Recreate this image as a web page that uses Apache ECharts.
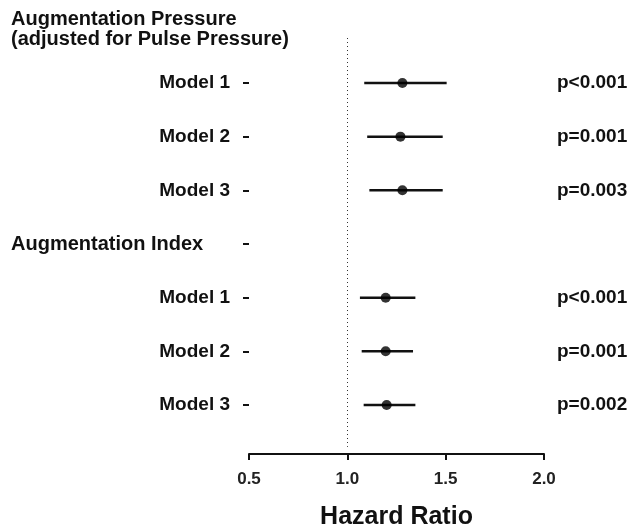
<!DOCTYPE html>
<html>
<head>
<meta charset="utf-8">
<script src="https://cdn.jsdelivr.net/npm/echarts@6/dist/echarts.min.js"></script>
<style>html,body{margin:0;padding:0;background:#fff;}#c{width:633px;height:527px;}</style>
</head>
<body>
<div id="c"></div>
<script>
// Rows (top to bottom); index 0 and 4 are group headers
const rowLabels = ['Augmentation Pressure\n(adjusted for Pulse Pressure)', 'Model 1', 'Model 2', 'Model 3', 'Augmentation Index', 'Model 1', 'Model 2', 'Model 3'];
const headerRows = [0, 4];
const hazardRatio = [null, 1.28, 1.27, 1.28, null, 1.195, 1.195, 1.20];
const ciLower = [null, 1.086, 1.101, 1.112, null, 1.064, 1.073, 1.083];
const ciUpper = [null, 1.505, 1.485, 1.485, null, 1.346, 1.334, 1.346];
const pValues = ['', 'p<0.001', 'p=0.001', 'p=0.003', '', 'p<0.001', 'p=0.001', 'p=0.002'];
const xTicks = [0.5, 1.0, 1.5, 2.0];
const refLine = 1.0;

const FONT = '"Liberation Sans", Arial, Helvetica, sans-serif';
const rowIdx = rowLabels.map((_, i) => i);
const tickRows = rowIdx.filter(i => i > 0);
const pRows = rowIdx.filter(i => pValues[i] !== '');

const pointData = [];
const ciData = [];
rowIdx.forEach(i => {
  if (hazardRatio[i] != null) {
    pointData.push([hazardRatio[i], i]);
    ciData.push([ciLower[i], ciUpper[i], i]);
  }
});

const chart = echarts.init(document.getElementById('c'), null, {renderer: 'canvas'});
const Y_MIN = -0.509, Y_MAX = 7.913;
chart.setOption({
  backgroundColor: '#ffffff',
  animation: false,
  grid: {left: 249, right: 89, top: 2, bottom: 73, containLabel: false, outerBoundsMode: 'none'},
  xAxis: {
    type: 'value',
    min: xTicks[0], max: xTicks[xTicks.length - 1], interval: 0.5,
    splitLine: {show: false},
    axisLine: {show: true, onZero: false, lineStyle: {color: '#111', width: 2}},
    axisTick: {show: true, inside: false, length: 6, lineStyle: {color: '#111', width: 2}},
    axisLabel: {show: true, margin: 17, fontFamily: FONT, fontSize: 17, fontWeight: 'bold', color: '#222',
      formatter: v => v.toFixed(1)},
    name: 'Hazard Ratio', nameLocation: 'middle', nameGap: 51,
    nameTextStyle: {fontFamily: FONT, fontSize: 25, fontWeight: 'bold', color: '#111'}
  },
  yAxis: [{
    type: 'value', inverse: true, min: Y_MIN, max: Y_MAX,
    splitLine: {show: false},
    axisLine: {show: false, onZero: false},
    axisTick: {show: true, length: 6, customValues: tickRows, lineStyle: {color: '#111', width: 2}},
    axisLabel: {
      show: true, margin: 19, customValues: rowIdx,
      fontFamily: FONT, fontSize: 19, fontWeight: 'bold', color: '#111',
      formatter: v => {
        const i = Math.round(v);
        if (headerRows.indexOf(i) >= 0) {
          return rowLabels[i].split('\n').map(s => '{g|' + s + '}').join('\n');
        }
        return rowLabels[i] || '';
      },
      rich: {g: {width: 219, align: 'left', fontFamily: FONT, fontSize: 20, fontWeight: 'bold', color: '#111', lineHeight: 20}}
    }
  }, {
    type: 'value', inverse: true, min: Y_MIN, max: Y_MAX, position: 'right',
    splitLine: {show: false}, axisLine: {show: false, onZero: false}, axisTick: {show: false},
    axisLabel: {show: true, margin: 13, customValues: pRows,
      fontFamily: FONT, fontSize: 19, fontWeight: 'bold', color: '#111',
      formatter: v => pValues[Math.round(v)] || ''}
  }],
  series: [{
    type: 'custom',
    data: ciData,
    renderItem: (params, api) => {
      const a = api.coord([api.value(0), api.value(2)]);
      const b = api.coord([api.value(1), api.value(2)]);
      return {type: 'line', shape: {x1: a[0], y1: a[1], x2: b[0], y2: b[1]},
        style: {stroke: '#111', lineWidth: 2.5}};
    },
    encode: {x: [0, 1], y: 2},
    z: 2
  }, {
    type: 'scatter',
    data: pointData,
    symbol: 'circle', symbolSize: 10,
    itemStyle: {color: '#000'},
    z: 3,
    markLine: {
      silent: true, symbol: 'none', label: {show: false},
      lineStyle: {type: [1, 3], color: '#333', width: 1},
      data: [[{coord: [refLine, 0.162]}, {coord: [refLine, 7.78]}]]
    }
  }]
});
</script>
</body>
</html>
